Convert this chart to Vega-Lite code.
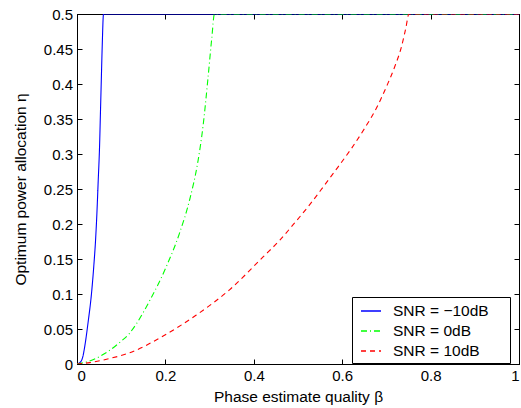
{
  "$schema": "https://vega.github.io/schema/vega-lite/v6.json",
  "width": 442,
  "height": 350,
  "autosize": {"type": "none"},
  "padding": {"left": 77, "top": 14, "right": 2, "bottom": 44},
  "background": "white",
  "config": {
    "view": {"stroke": "#000", "strokeWidth": 1},
    "font": "Liberation Sans",
    "axis": {
      "grid": false,
      "domainColor": "#000",
      "tickColor": "#000",
      "labelColor": "#000",
      "titleColor": "#000",
      "labelFont": "Liberation Sans",
      "titleFont": "Liberation Sans",
      "labelFontSize": 15,
      "titleFontSize": 15.5,
      "titleFontWeight": "normal",
      "tickSize": -5,
      "labelPadding": 9.5
    },
    "legend": {
      "orient": "none",
      "legendX": 275,
      "legendY": 283,
      "strokeColor": "#000",
      "fillColor": "#fff",
      "padding": 3,
      "symbolOffset": 5,
      "symbolType": "stroke",
      "symbolSize": 400,
      "symbolStrokeWidth": 1.5,
      "labelFontSize": 15.5,
      "labelFont": "Liberation Sans",
      "labelColor": "#000",
      "rowPadding": -2,
      "labelOffset": 11,
      "titleOrient": "right",
      "titlePadding": 18,
      "titleFontSize": 15.5
    }
  },
  "data": {
    "values": [
      {"series": "SNR = −10dB", "beta": 0, "eta": 0},
      {"series": "SNR = −10dB", "beta": 0.008, "eta": 0.003},
      {"series": "SNR = −10dB", "beta": 0.013, "eta": 0.01},
      {"series": "SNR = −10dB", "beta": 0.018, "eta": 0.027},
      {"series": "SNR = −10dB", "beta": 0.025, "eta": 0.059},
      {"series": "SNR = −10dB", "beta": 0.033, "eta": 0.102},
      {"series": "SNR = −10dB", "beta": 0.038, "eta": 0.14},
      {"series": "SNR = −10dB", "beta": 0.042, "eta": 0.177},
      {"series": "SNR = −10dB", "beta": 0.045, "eta": 0.215},
      {"series": "SNR = −10dB", "beta": 0.048, "eta": 0.262},
      {"series": "SNR = −10dB", "beta": 0.051, "eta": 0.31},
      {"series": "SNR = −10dB", "beta": 0.053, "eta": 0.358},
      {"series": "SNR = −10dB", "beta": 0.055, "eta": 0.406},
      {"series": "SNR = −10dB", "beta": 0.057, "eta": 0.453},
      {"series": "SNR = −10dB", "beta": 0.060, "eta": 0.5},
      {"series": "SNR = −10dB", "beta": 1, "eta": 0.5},
      {"series": "SNR = 0dB", "beta": 0, "eta": 0},
      {"series": "SNR = 0dB", "beta": 0.022, "eta": 0.003},
      {"series": "SNR = 0dB", "beta": 0.052, "eta": 0.011},
      {"series": "SNR = 0dB", "beta": 0.097, "eta": 0.031},
      {"series": "SNR = 0dB", "beta": 0.119, "eta": 0.044},
      {"series": "SNR = 0dB", "beta": 0.135, "eta": 0.058},
      {"series": "SNR = 0dB", "beta": 0.164, "eta": 0.09},
      {"series": "SNR = 0dB", "beta": 0.202, "eta": 0.139},
      {"series": "SNR = 0dB", "beta": 0.232, "eta": 0.187},
      {"series": "SNR = 0dB", "beta": 0.255, "eta": 0.235},
      {"series": "SNR = 0dB", "beta": 0.274, "eta": 0.291},
      {"series": "SNR = 0dB", "beta": 0.285, "eta": 0.339},
      {"series": "SNR = 0dB", "beta": 0.296, "eta": 0.406},
      {"series": "SNR = 0dB", "beta": 0.305, "eta": 0.466},
      {"series": "SNR = 0dB", "beta": 0.311, "eta": 0.5},
      {"series": "SNR = 0dB", "beta": 1, "eta": 0.5},
      {"series": "SNR = 10dB", "beta": 0, "eta": 0},
      {"series": "SNR = 10dB", "beta": 0.029, "eta": 0.002},
      {"series": "SNR = 10dB", "beta": 0.075, "eta": 0.008},
      {"series": "SNR = 10dB", "beta": 0.119, "eta": 0.016},
      {"series": "SNR = 10dB", "beta": 0.195, "eta": 0.04},
      {"series": "SNR = 10dB", "beta": 0.27, "eta": 0.07},
      {"series": "SNR = 10dB", "beta": 0.345, "eta": 0.106},
      {"series": "SNR = 10dB", "beta": 0.421, "eta": 0.153},
      {"series": "SNR = 10dB", "beta": 0.459, "eta": 0.177},
      {"series": "SNR = 10dB", "beta": 0.489, "eta": 0.199},
      {"series": "SNR = 10dB", "beta": 0.527, "eta": 0.228},
      {"series": "SNR = 10dB", "beta": 0.557, "eta": 0.253},
      {"series": "SNR = 10dB", "beta": 0.59, "eta": 0.281},
      {"series": "SNR = 10dB", "beta": 0.621, "eta": 0.308},
      {"series": "SNR = 10dB", "beta": 0.651, "eta": 0.337},
      {"series": "SNR = 10dB", "beta": 0.677, "eta": 0.365},
      {"series": "SNR = 10dB", "beta": 0.7, "eta": 0.396},
      {"series": "SNR = 10dB", "beta": 0.719, "eta": 0.425},
      {"series": "SNR = 10dB", "beta": 0.734, "eta": 0.453},
      {"series": "SNR = 10dB", "beta": 0.744, "eta": 0.48},
      {"series": "SNR = 10dB", "beta": 0.751, "eta": 0.5},
      {"series": "SNR = 10dB", "beta": 1, "eta": 0.5}
    ]
  },
  "layer": [
    {
      "mark": {"type": "line", "strokeWidth": 1.1, "interpolate": "monotone", "clip": true},
      "encoding": {
        "x": {"field": "beta", "type": "quantitative", "scale": {"domain": [0, 1], "nice": false},
              "axis": {"orient": "bottom", "title": "Phase estimate quality β", "values": [0, 0.2, 0.4, 0.6, 0.8, 1], "format": "~g", "titlePadding": 6}},
        "y": {"field": "eta", "type": "quantitative", "scale": {"domain": [0, 0.5], "nice": false},
              "axis": {"orient": "left", "title": "Optimum power allocation η", "values": [0, 0.05, 0.1, 0.15, 0.2, 0.25, 0.3, 0.35, 0.4, 0.45, 0.5], "format": "~g", "titlePadding": 14.5}},
        "color": {"field": "series", "type": "nominal",
                  "scale": {"domain": ["SNR = −10dB", "SNR = 0dB", "SNR = 10dB"], "range": ["#0000ff", "#00ff00", "#ff0000"]},
                  "legend": {"title": " "}},
        "strokeDash": {"field": "series", "type": "nominal",
                       "scale": {"domain": ["SNR = −10dB", "SNR = 0dB", "SNR = 10dB"], "range": [[1, 0], [6, 3, 1, 3], [5, 4]]},
                       "legend": {"title": " "}}
      }
    },
    {
      "mark": {"type": "line", "strokeOpacity": 0},
      "encoding": {
        "x": {"field": "beta", "type": "quantitative",
              "axis": {"orient": "top", "title": null, "labels": false, "values": [0, 0.2, 0.4, 0.6, 0.8, 1]}},
        "y": {"field": "eta", "type": "quantitative",
              "axis": {"orient": "right", "title": null, "labels": false, "values": [0, 0.05, 0.1, 0.15, 0.2, 0.25, 0.3, 0.35, 0.4, 0.45, 0.5]}},
        "detail": {"field": "series", "type": "nominal"}
      }
    }
  ]
}
